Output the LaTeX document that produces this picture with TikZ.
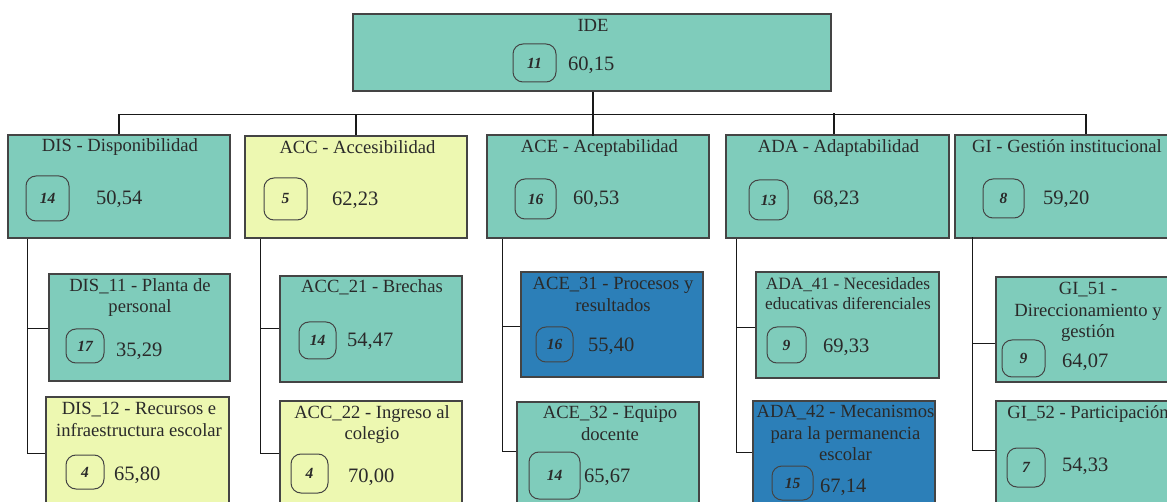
\documentclass[tikz,border=0pt]{standalone}
\usepackage{fontspec}
\setmainfont{Liberation Serif}
\usetikzlibrary{calc}
\definecolor{cTeal}{HTML}{7FCCBB}
\definecolor{cYel}{HTML}{EDF8B1}
\definecolor{cBlue}{HTML}{2C7FB8}
\definecolor{cBorder}{HTML}{444444}
\definecolor{cText}{HTML}{2A2A2A}
\tikzset{
  box/.style={draw=cBorder, line width=1.3pt, inner sep=0pt},
  tbox/.style={box, fill=cTeal},
  ybox/.style={box, fill=cYel},
  bbox/.style={box, fill=cBlue},
  ttl/.style={text=cText, font=\fontsize{18.6}{21.5}\selectfont, align=center, inner sep=0pt, anchor=north},
  ttlsmall/.style={ttl, font=\fontsize{17.3}{20.5}\selectfont},
  badge/.style={draw=cBorder, line width=1pt, rounded corners=10pt, inner sep=0pt, text=cText, font=\fontsize{15.5}{15.5}\selectfont\bfseries\itshape},
  val/.style={text=cText, font=\fontsize{20.5}{20.5}\selectfont, inner sep=0pt, anchor=base west},
  link/.style={draw=black!90, line width=1.6pt},
}
\begin{document}
\begin{tikzpicture}[x=1pt,y=-1pt]
\useasboundingbox (0,0) rectangle (1167,502);
\clip (0,0) rectangle (1167,502);
% ---------- boxes ----------
\node[tbox, minimum width=478pt, minimum height=77pt] (ide) at (592,52.5) {};
\node[tbox, minimum width=222pt, minimum height=103pt] (dis) at (119,186.5) {};
\node[ybox, minimum width=222pt, minimum height=102pt] (acc) at (356,187) {};
\node[tbox, minimum width=222pt, minimum height=103pt] (ace) at (598,186.5) {};
\node[tbox, minimum width=223pt, minimum height=103pt] (ada) at (837.5,186.5) {};
\node[tbox, minimum width=222pt, minimum height=103pt] (gi) at (1066,186.5) {};
\node[tbox, minimum width=181pt, minimum height=107pt] (dis11) at (139.5,327.5) {};
\node[ybox, minimum width=183pt, minimum height=118pt] (dis12) at (137.5,456) {};
\node[tbox, minimum width=182pt, minimum height=106pt] (acc21) at (371,329) {};
\node[ybox, minimum width=182pt, minimum height=114pt] (acc22) at (371,458) {};
\node[bbox, minimum width=182pt, minimum height=105pt] (ace31) at (612,324.5) {};
\node[tbox, minimum width=182pt, minimum height=113pt] (ace32) at (608,458.5) {};
\node[tbox, minimum width=183pt, minimum height=106pt] (ada41) at (847.5,325) {};
\node[bbox, minimum width=182pt, minimum height=114pt] (ada42) at (844,458) {};
\node[tbox, minimum width=184pt, minimum height=105pt] (gi51) at (1088,329.5) {};
\node[tbox, minimum width=184pt, minimum height=114pt] (gi52) at (1088,458) {};
% ---------- titles ----------
\node[ttl] (ideT) at (593,19) {IDE};
\node[ttl] (disT) at (120,138) {DIS - Disponibilidad};
\node[ttl] (accT) at (357.5,140) {ACC - Accesibilidad};
\node[ttl] (aceT) at (599.5,139) {ACE - Aceptabilidad};
\node[ttl] (adaT) at (838.5,139) {ADA - Adaptabilidad};
\node[ttl] (giT) at (1067,139) {GI - Gestión institucional};
\node[ttl] (dis11T) at (140,278) {DIS\_11 - Planta de\\personal};
\node[ttl] (dis12T) at (139,402) {DIS\_12 - Recursos e\\infraestructura escolar};
\node[ttl] (acc21T) at (372,279) {ACC\_21 - Brechas};
\node[ttl] (acc22T) at (372,405) {ACC\_22 - Ingreso al\\colegio};
\node[ttl] (ace31T) at (613,277) {ACE\_31 - Procesos y\\resultados};
\node[ttl] (ace32T) at (610,406) {ACE\_32 - Equipo\\docente};
\node[ttlsmall] (ada41T) at (848,277) {ADA\_41 - Necesidades\\educativas diferenciales};
\node[ttl] (ada42T) at (845.5,405) {ADA\_42 - Mecanismos\\para la permanencia\\escolar};
\node[ttl] (gi51T) at (1088,282) {GI\_51 -\\Direccionamiento y\\gestión};
\node[ttl] (gi52T) at (1088,405) {GI\_52 - Participación};
% ---------- badges ----------
\node[badge, minimum width=43pt, minimum height=38pt] (ideB) at (534.5,63) {11};
\node[badge, minimum width=43pt, minimum height=45pt] (disB) at (47.5,198.5) {14};
\node[badge, minimum width=43pt, minimum height=42pt] (accB) at (285.5,199) {5};
\node[badge, minimum width=41pt, minimum height=40pt] (aceB) at (535.5,199) {16};
\node[badge, minimum width=39pt, minimum height=40pt] (adaB) at (768.5,200) {13};
\node[badge, minimum width=41pt, minimum height=39pt] (giB) at (1003.5,198.5) {8};
\node[badge, minimum width=38pt, minimum height=34pt] (dis11B) at (85,346) {17};
\node[badge, minimum width=38pt, minimum height=34pt] (dis12B) at (85,472) {4};
\node[badge, minimum width=37pt, minimum height=37pt] (acc21B) at (317.5,340.5) {14};
\node[badge, minimum width=37pt, minimum height=39pt] (acc22B) at (309.5,473.5) {4};
\node[badge, minimum width=37pt, minimum height=35pt] (ace31B) at (554.5,344.5) {16};
\node[badge, minimum width=51pt, minimum height=47pt] (ace32B) at (554.5,475.5) {14};
\node[badge, minimum width=39pt, minimum height=36pt] (ada41B) at (786.5,345) {9};
\node[badge, minimum width=41pt, minimum height=34pt] (ada42B) at (792.5,483) {15};
\node[badge, minimum width=43pt, minimum height=37pt] (gi51B) at (1023.5,358.5) {9};
\node[badge, minimum width=38pt, minimum height=39pt] (gi52B) at (1026,467.5) {7};
% ---------- values ----------
\node[val] (ideV) at (568,71) {60,15};
\node[val] (disV) at (96,205) {50,54};
\node[val] (accV) at (332,206) {62,23};
\node[val] (aceV) at (573,205) {60,53};
\node[val] (adaV) at (813,205) {68,23};
\node[val] (giV) at (1043,205) {59,20};
\node[val] (dis11V) at (116,357) {35,29};
\node[val] (dis12V) at (114,480) {65,80};
\node[val] (acc21V) at (347,347) {54,47};
\node[val] (acc22V) at (348,482) {70,00};
\node[val] (ace31V) at (588,352) {55,40};
\node[val] (ace32V) at (584,482) {65,67};
\node[val] (ada41V) at (823,353) {69,33};
\node[val] (ada42V) at (820,492) {67,14};
\node[val] (gi51V) at (1062,367) {64,07};
\node[val] (gi52V) at (1062,471) {54,33};
% ---------- connectors ----------
\coordinate (bus) at ($(ide.south)+(1,23)$);
\draw[link] ($(ide.south)+(1,0)$) -- ($(ide.south)+(1,44)$);
\draw[link] (dis.north) -- (dis.north |- bus) -- (bus);
\draw[link] (bus) -| ($(gi.north)+(20,0)$);
\draw[link] (acc.north) -- (acc.north |- bus);
\draw[link] ($(ada.north)+(-3.5,0)$) -- ($(ada.north)+(-3.5,-21)$);
\coordinate (disJ) at ($(dis.south west)+(20,0)$);
\coordinate (accJ) at ($(acc.south west)+(16,0)$);
\coordinate (aceJ) at ($(ace.south west)+(16,0)$);
\coordinate (adaJ) at ($(ada.south west)+(11,0)$);
\coordinate (giJ) at ($(gi.south west)+(18,-2)$);
\draw[link] ($(dis11.north west)+(0,55)$) -| (disJ);
\draw[link] ($(dis12.north west)+(0,57)$) -| (disJ);
\draw[link] ($(acc21.north west)+(0,53)$) -| (accJ);
\draw[link] ($(acc22.north west)+(0,53)$) -| (accJ);
\draw[link] ($(ace31.north west)+(0,55)$) -| (aceJ);
\draw[link] ($(ace32.north west)+(0,50)$) -| (aceJ);
\draw[link] ($(ada41.north west)+(0,56)$) -| (adaJ);
\draw[link] ($(ada42.north west)+(0,52)$) -| (adaJ);
\draw[link] ($(gi51.north west)+(0,67)$) -| (giJ);
\draw[link] ($(gi52.north west)+(0,50)$) -| (giJ);
\end{tikzpicture}
\end{document}
